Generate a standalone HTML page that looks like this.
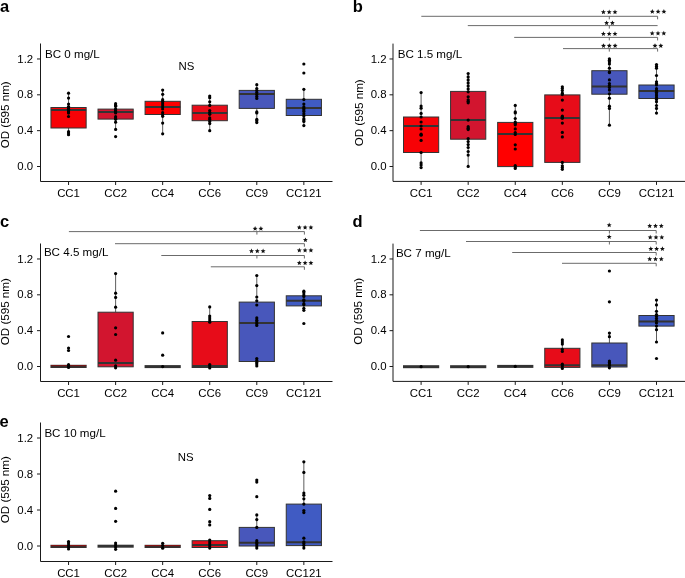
<!DOCTYPE html>
<html><head><meta charset="utf-8"><style>
html,body{margin:0;padding:0;background:#fff;}
svg{display:block;will-change:transform;}
.t{font-family:"Liberation Sans", sans-serif;font-size:11.4px;fill:#000;}
.pl{font-family:"Liberation Sans", sans-serif;font-size:16.5px;font-weight:bold;fill:#000;}
.ax{stroke:#1a1a1a;stroke-width:1;fill:none;}
.wk{stroke:#333;stroke-width:0.8;}
.bx{stroke:#333;stroke-width:1;}
.md{stroke:#333;stroke-width:2;}
.sg{stroke:#5a5a5a;stroke-width:0.9;}
circle{fill:#000;}
polygon{fill:#111;}
</style></head><body>
<svg width="685" height="578" viewBox="0 0 685 578">
<line x1="68.55" y1="93.20" x2="68.55" y2="107.50" class="wk"/>
<line x1="68.55" y1="128.00" x2="68.55" y2="134.70" class="wk"/>
<rect x="50.95" y="107.50" width="35.20" height="20.50" fill="#F70206" class="bx"/>
<line x1="50.95" y1="110.00" x2="86.15" y2="110.00" class="md"/>
<circle cx="68.55" cy="93.20" r="1.6"/>
<circle cx="68.55" cy="98.10" r="1.6"/>
<circle cx="68.55" cy="104.00" r="1.6"/>
<circle cx="68.55" cy="106.50" r="1.6"/>
<circle cx="68.55" cy="107.70" r="1.6"/>
<circle cx="68.55" cy="109.20" r="1.6"/>
<circle cx="68.55" cy="110.90" r="1.6"/>
<circle cx="68.55" cy="112.00" r="1.6"/>
<circle cx="68.55" cy="113.10" r="1.6"/>
<circle cx="68.55" cy="116.50" r="1.6"/>
<circle cx="68.55" cy="131.70" r="1.6"/>
<circle cx="68.55" cy="133.00" r="1.6"/>
<circle cx="68.55" cy="134.70" r="1.6"/>
<line x1="115.61" y1="103.70" x2="115.61" y2="109.10" class="wk"/>
<line x1="115.61" y1="119.10" x2="115.61" y2="129.40" class="wk"/>
<rect x="98.01" y="109.10" width="35.20" height="10.00" fill="#D2152F" class="bx"/>
<line x1="98.01" y1="112.00" x2="133.21" y2="112.00" class="md"/>
<circle cx="115.61" cy="103.70" r="1.6"/>
<circle cx="115.61" cy="105.20" r="1.6"/>
<circle cx="115.61" cy="106.30" r="1.6"/>
<circle cx="115.61" cy="108.90" r="1.6"/>
<circle cx="115.61" cy="110.00" r="1.6"/>
<circle cx="115.61" cy="111.00" r="1.6"/>
<circle cx="115.61" cy="112.00" r="1.6"/>
<circle cx="115.61" cy="113.00" r="1.6"/>
<circle cx="115.61" cy="116.70" r="1.6"/>
<circle cx="115.61" cy="118.00" r="1.6"/>
<circle cx="115.61" cy="119.30" r="1.6"/>
<circle cx="115.61" cy="122.20" r="1.6"/>
<circle cx="115.61" cy="129.40" r="1.6"/>
<circle cx="115.61" cy="136.60" r="1.6"/>
<line x1="162.67" y1="90.10" x2="162.67" y2="101.30" class="wk"/>
<line x1="162.67" y1="114.50" x2="162.67" y2="133.80" class="wk"/>
<rect x="145.07" y="101.30" width="35.20" height="13.20" fill="#FF0000" class="bx"/>
<line x1="145.07" y1="107.00" x2="180.27" y2="107.00" class="md"/>
<circle cx="162.67" cy="90.10" r="1.6"/>
<circle cx="162.67" cy="94.30" r="1.6"/>
<circle cx="162.67" cy="99.70" r="1.6"/>
<circle cx="162.67" cy="101.30" r="1.6"/>
<circle cx="162.67" cy="103.00" r="1.6"/>
<circle cx="162.67" cy="105.00" r="1.6"/>
<circle cx="162.67" cy="107.00" r="1.6"/>
<circle cx="162.67" cy="109.00" r="1.6"/>
<circle cx="162.67" cy="112.70" r="1.6"/>
<circle cx="162.67" cy="114.80" r="1.6"/>
<circle cx="162.67" cy="116.30" r="1.6"/>
<circle cx="162.67" cy="123.10" r="1.6"/>
<circle cx="162.67" cy="133.80" r="1.6"/>
<line x1="209.73" y1="96.10" x2="209.73" y2="105.20" class="wk"/>
<line x1="209.73" y1="120.70" x2="209.73" y2="130.70" class="wk"/>
<rect x="192.13" y="105.20" width="35.20" height="15.50" fill="#E70C19" class="bx"/>
<line x1="192.13" y1="113.00" x2="227.33" y2="113.00" class="md"/>
<circle cx="209.73" cy="96.10" r="1.6"/>
<circle cx="209.73" cy="97.70" r="1.6"/>
<circle cx="209.73" cy="101.80" r="1.6"/>
<circle cx="209.73" cy="105.40" r="1.6"/>
<circle cx="209.73" cy="110.60" r="1.6"/>
<circle cx="209.73" cy="112.50" r="1.6"/>
<circle cx="209.73" cy="114.30" r="1.6"/>
<circle cx="209.73" cy="117.90" r="1.6"/>
<circle cx="209.73" cy="119.50" r="1.6"/>
<circle cx="209.73" cy="121.50" r="1.6"/>
<circle cx="209.73" cy="123.60" r="1.6"/>
<circle cx="209.73" cy="130.70" r="1.6"/>
<line x1="256.79" y1="84.70" x2="256.79" y2="90.40" class="wk"/>
<line x1="256.79" y1="108.40" x2="256.79" y2="122.60" class="wk"/>
<rect x="239.19" y="90.40" width="35.20" height="18.00" fill="#4857BB" class="bx"/>
<line x1="239.19" y1="93.90" x2="274.39" y2="93.90" class="md"/>
<circle cx="256.79" cy="84.70" r="1.6"/>
<circle cx="256.79" cy="88.50" r="1.6"/>
<circle cx="256.79" cy="90.50" r="1.6"/>
<circle cx="256.79" cy="92.50" r="1.6"/>
<circle cx="256.79" cy="94.50" r="1.6"/>
<circle cx="256.79" cy="96.50" r="1.6"/>
<circle cx="256.79" cy="98.40" r="1.6"/>
<circle cx="256.79" cy="111.90" r="1.6"/>
<circle cx="256.79" cy="112.90" r="1.6"/>
<circle cx="256.79" cy="119.40" r="1.6"/>
<circle cx="256.79" cy="120.70" r="1.6"/>
<circle cx="256.79" cy="122.60" r="1.6"/>
<line x1="303.85" y1="89.30" x2="303.85" y2="99.30" class="wk"/>
<line x1="303.85" y1="115.50" x2="303.85" y2="125.60" class="wk"/>
<rect x="286.25" y="99.30" width="35.20" height="16.20" fill="#405BC3" class="bx"/>
<line x1="286.25" y1="107.90" x2="321.45" y2="107.90" class="md"/>
<circle cx="303.85" cy="64.00" r="1.6"/>
<circle cx="303.85" cy="73.00" r="1.6"/>
<circle cx="303.85" cy="89.30" r="1.6"/>
<circle cx="303.85" cy="99.60" r="1.6"/>
<circle cx="303.85" cy="104.10" r="1.6"/>
<circle cx="303.85" cy="106.90" r="1.6"/>
<circle cx="303.85" cy="108.50" r="1.6"/>
<circle cx="303.85" cy="110.00" r="1.6"/>
<circle cx="303.85" cy="111.50" r="1.6"/>
<circle cx="303.85" cy="113.80" r="1.6"/>
<circle cx="303.85" cy="115.90" r="1.6"/>
<circle cx="303.85" cy="118.70" r="1.6"/>
<circle cx="303.85" cy="120.00" r="1.6"/>
<circle cx="303.85" cy="121.40" r="1.6"/>
<circle cx="303.85" cy="125.60" r="1.6"/>
<path d="M40.50 43.50 V181.50 H332.50" class="ax"/>
<line x1="37.00" y1="166.50" x2="40.50" y2="166.50" class="ax"/>
<text x="33.20" y="170.10" text-anchor="end" class="t">0.0</text>
<line x1="37.00" y1="130.66" x2="40.50" y2="130.66" class="ax"/>
<text x="33.20" y="134.26" text-anchor="end" class="t">0.4</text>
<line x1="37.00" y1="94.82" x2="40.50" y2="94.82" class="ax"/>
<text x="33.20" y="98.42" text-anchor="end" class="t">0.8</text>
<line x1="37.00" y1="58.98" x2="40.50" y2="58.98" class="ax"/>
<text x="33.20" y="62.58" text-anchor="end" class="t">1.2</text>
<line x1="68.55" y1="181.50" x2="68.55" y2="185.00" class="ax"/>
<text x="68.55" y="197.40" text-anchor="middle" class="t">CC1</text>
<line x1="115.61" y1="181.50" x2="115.61" y2="185.00" class="ax"/>
<text x="115.61" y="197.40" text-anchor="middle" class="t">CC2</text>
<line x1="162.67" y1="181.50" x2="162.67" y2="185.00" class="ax"/>
<text x="162.67" y="197.40" text-anchor="middle" class="t">CC4</text>
<line x1="209.73" y1="181.50" x2="209.73" y2="185.00" class="ax"/>
<text x="209.73" y="197.40" text-anchor="middle" class="t">CC6</text>
<line x1="256.79" y1="181.50" x2="256.79" y2="185.00" class="ax"/>
<text x="256.79" y="197.40" text-anchor="middle" class="t">CC9</text>
<line x1="303.85" y1="181.50" x2="303.85" y2="185.00" class="ax"/>
<text x="303.85" y="197.40" text-anchor="middle" class="t">CC121</text>
<text transform="translate(9.00 114.80) rotate(-90)" text-anchor="middle" class="t" style="font-size:11.6px">OD (595 nm)</text>
<text x="0.00" y="12.30" class="pl">a</text>
<text x="45.00" y="57.60" class="t" style="font-size:11.6px">BC 0 mg/L</text>
<text x="186.50" y="69.70" text-anchor="middle" class="t">NS</text>
<line x1="421.10" y1="92.60" x2="421.10" y2="117.00" class="wk"/>
<line x1="421.10" y1="152.50" x2="421.10" y2="167.00" class="wk"/>
<rect x="403.50" y="117.00" width="35.20" height="35.50" fill="#F70206" class="bx"/>
<line x1="403.50" y1="126.00" x2="438.70" y2="126.00" class="md"/>
<circle cx="421.10" cy="92.60" r="1.6"/>
<circle cx="421.10" cy="106.10" r="1.6"/>
<circle cx="421.10" cy="108.20" r="1.6"/>
<circle cx="421.10" cy="113.40" r="1.6"/>
<circle cx="421.10" cy="117.00" r="1.6"/>
<circle cx="421.10" cy="122.00" r="1.6"/>
<circle cx="421.10" cy="126.00" r="1.6"/>
<circle cx="421.10" cy="129.00" r="1.6"/>
<circle cx="421.10" cy="134.20" r="1.6"/>
<circle cx="421.10" cy="135.20" r="1.6"/>
<circle cx="421.10" cy="140.40" r="1.6"/>
<circle cx="421.10" cy="152.50" r="1.6"/>
<circle cx="421.10" cy="162.90" r="1.6"/>
<circle cx="421.10" cy="165.00" r="1.6"/>
<circle cx="421.10" cy="167.60" r="1.6"/>
<line x1="468.18" y1="73.50" x2="468.18" y2="91.40" class="wk"/>
<line x1="468.18" y1="139.20" x2="468.18" y2="166.40" class="wk"/>
<rect x="450.58" y="91.40" width="35.20" height="47.80" fill="#D2152F" class="bx"/>
<line x1="450.58" y1="120.10" x2="485.78" y2="120.10" class="md"/>
<circle cx="468.18" cy="73.50" r="1.6"/>
<circle cx="468.18" cy="76.90" r="1.6"/>
<circle cx="468.18" cy="79.90" r="1.6"/>
<circle cx="468.18" cy="82.90" r="1.6"/>
<circle cx="468.18" cy="85.90" r="1.6"/>
<circle cx="468.18" cy="88.90" r="1.6"/>
<circle cx="468.18" cy="91.80" r="1.6"/>
<circle cx="468.18" cy="96.80" r="1.6"/>
<circle cx="468.18" cy="99.80" r="1.6"/>
<circle cx="468.18" cy="101.30" r="1.6"/>
<circle cx="468.18" cy="102.80" r="1.6"/>
<circle cx="468.18" cy="120.10" r="1.6"/>
<circle cx="468.18" cy="126.70" r="1.6"/>
<circle cx="468.18" cy="128.20" r="1.6"/>
<circle cx="468.18" cy="129.60" r="1.6"/>
<circle cx="468.18" cy="138.60" r="1.6"/>
<circle cx="468.18" cy="141.60" r="1.6"/>
<circle cx="468.18" cy="144.60" r="1.6"/>
<circle cx="468.18" cy="147.50" r="1.6"/>
<circle cx="468.18" cy="151.50" r="1.6"/>
<circle cx="468.18" cy="155.10" r="1.6"/>
<circle cx="468.18" cy="166.40" r="1.6"/>
<line x1="515.26" y1="105.40" x2="515.26" y2="122.40" class="wk"/>
<line x1="515.26" y1="166.60" x2="515.26" y2="166.60" class="wk"/>
<rect x="497.66" y="122.40" width="35.20" height="44.20" fill="#FF0000" class="bx"/>
<line x1="497.66" y1="134.00" x2="532.86" y2="134.00" class="md"/>
<circle cx="515.26" cy="105.40" r="1.6"/>
<circle cx="515.26" cy="111.90" r="1.6"/>
<circle cx="515.26" cy="113.00" r="1.6"/>
<circle cx="515.26" cy="118.50" r="1.6"/>
<circle cx="515.26" cy="122.00" r="1.6"/>
<circle cx="515.26" cy="123.40" r="1.6"/>
<circle cx="515.26" cy="124.80" r="1.6"/>
<circle cx="515.26" cy="128.90" r="1.6"/>
<circle cx="515.26" cy="132.60" r="1.6"/>
<circle cx="515.26" cy="134.40" r="1.6"/>
<circle cx="515.26" cy="144.80" r="1.6"/>
<circle cx="515.26" cy="149.00" r="1.6"/>
<circle cx="515.26" cy="165.60" r="1.6"/>
<circle cx="515.26" cy="167.00" r="1.6"/>
<circle cx="515.26" cy="168.40" r="1.6"/>
<line x1="562.34" y1="86.80" x2="562.34" y2="94.90" class="wk"/>
<line x1="562.34" y1="162.40" x2="562.34" y2="169.00" class="wk"/>
<rect x="544.74" y="94.90" width="35.20" height="67.50" fill="#E70C19" class="bx"/>
<line x1="544.74" y1="117.90" x2="579.94" y2="117.90" class="md"/>
<circle cx="562.34" cy="86.80" r="1.6"/>
<circle cx="562.34" cy="88.50" r="1.6"/>
<circle cx="562.34" cy="90.60" r="1.6"/>
<circle cx="562.34" cy="93.20" r="1.6"/>
<circle cx="562.34" cy="94.60" r="1.6"/>
<circle cx="562.34" cy="100.10" r="1.6"/>
<circle cx="562.34" cy="110.10" r="1.6"/>
<circle cx="562.34" cy="116.20" r="1.6"/>
<circle cx="562.34" cy="117.20" r="1.6"/>
<circle cx="562.34" cy="118.30" r="1.6"/>
<circle cx="562.34" cy="123.10" r="1.6"/>
<circle cx="562.34" cy="132.40" r="1.6"/>
<circle cx="562.34" cy="136.90" r="1.6"/>
<circle cx="562.34" cy="162.40" r="1.6"/>
<circle cx="562.34" cy="165.80" r="1.6"/>
<circle cx="562.34" cy="167.50" r="1.6"/>
<circle cx="562.34" cy="169.30" r="1.6"/>
<line x1="609.42" y1="58.80" x2="609.42" y2="70.70" class="wk"/>
<line x1="609.42" y1="94.20" x2="609.42" y2="125.20" class="wk"/>
<rect x="591.82" y="70.70" width="35.20" height="23.50" fill="#4857BB" class="bx"/>
<line x1="591.82" y1="86.50" x2="627.02" y2="86.50" class="md"/>
<circle cx="609.42" cy="58.80" r="1.6"/>
<circle cx="609.42" cy="60.20" r="1.6"/>
<circle cx="609.42" cy="61.70" r="1.6"/>
<circle cx="609.42" cy="63.90" r="1.6"/>
<circle cx="609.42" cy="68.20" r="1.6"/>
<circle cx="609.42" cy="71.90" r="1.6"/>
<circle cx="609.42" cy="72.60" r="1.6"/>
<circle cx="609.42" cy="79.90" r="1.6"/>
<circle cx="609.42" cy="83.60" r="1.6"/>
<circle cx="609.42" cy="85.50" r="1.6"/>
<circle cx="609.42" cy="87.50" r="1.6"/>
<circle cx="609.42" cy="90.10" r="1.6"/>
<circle cx="609.42" cy="93.80" r="1.6"/>
<circle cx="609.42" cy="98.20" r="1.6"/>
<circle cx="609.42" cy="106.20" r="1.6"/>
<circle cx="609.42" cy="108.40" r="1.6"/>
<circle cx="609.42" cy="125.20" r="1.6"/>
<line x1="656.50" y1="64.60" x2="656.50" y2="85.00" class="wk"/>
<line x1="656.50" y1="98.50" x2="656.50" y2="113.10" class="wk"/>
<rect x="638.90" y="85.00" width="35.20" height="13.50" fill="#405BC3" class="bx"/>
<line x1="638.90" y1="90.90" x2="674.10" y2="90.90" class="md"/>
<circle cx="656.50" cy="64.60" r="1.6"/>
<circle cx="656.50" cy="66.40" r="1.6"/>
<circle cx="656.50" cy="68.20" r="1.6"/>
<circle cx="656.50" cy="75.50" r="1.6"/>
<circle cx="656.50" cy="81.80" r="1.6"/>
<circle cx="656.50" cy="83.50" r="1.6"/>
<circle cx="656.50" cy="85.00" r="1.6"/>
<circle cx="656.50" cy="88.70" r="1.6"/>
<circle cx="656.50" cy="90.50" r="1.6"/>
<circle cx="656.50" cy="92.30" r="1.6"/>
<circle cx="656.50" cy="94.00" r="1.6"/>
<circle cx="656.50" cy="95.80" r="1.6"/>
<circle cx="656.50" cy="97.70" r="1.6"/>
<circle cx="656.50" cy="99.60" r="1.6"/>
<circle cx="656.50" cy="101.80" r="1.6"/>
<circle cx="656.50" cy="105.50" r="1.6"/>
<circle cx="656.50" cy="108.40" r="1.6"/>
<circle cx="656.50" cy="113.10" r="1.6"/>
<path d="M393.00 43.60 V181.40 H685.00" class="ax"/>
<line x1="389.50" y1="166.50" x2="393.00" y2="166.50" class="ax"/>
<text x="386.50" y="170.10" text-anchor="end" class="t">0.0</text>
<line x1="389.50" y1="130.66" x2="393.00" y2="130.66" class="ax"/>
<text x="386.50" y="134.26" text-anchor="end" class="t">0.4</text>
<line x1="389.50" y1="94.82" x2="393.00" y2="94.82" class="ax"/>
<text x="386.50" y="98.42" text-anchor="end" class="t">0.8</text>
<line x1="389.50" y1="58.98" x2="393.00" y2="58.98" class="ax"/>
<text x="386.50" y="62.58" text-anchor="end" class="t">1.2</text>
<line x1="421.10" y1="181.40" x2="421.10" y2="184.90" class="ax"/>
<text x="421.10" y="197.30" text-anchor="middle" class="t">CC1</text>
<line x1="468.18" y1="181.40" x2="468.18" y2="184.90" class="ax"/>
<text x="468.18" y="197.30" text-anchor="middle" class="t">CC2</text>
<line x1="515.26" y1="181.40" x2="515.26" y2="184.90" class="ax"/>
<text x="515.26" y="197.30" text-anchor="middle" class="t">CC4</text>
<line x1="562.34" y1="181.40" x2="562.34" y2="184.90" class="ax"/>
<text x="562.34" y="197.30" text-anchor="middle" class="t">CC6</text>
<line x1="609.42" y1="181.40" x2="609.42" y2="184.90" class="ax"/>
<text x="609.42" y="197.30" text-anchor="middle" class="t">CC9</text>
<line x1="656.50" y1="181.40" x2="656.50" y2="184.90" class="ax"/>
<text x="656.50" y="197.30" text-anchor="middle" class="t">CC121</text>
<text transform="translate(363.10 112.80) rotate(-90)" text-anchor="middle" class="t" style="font-size:11.6px">OD (595 nm)</text>
<text x="352.80" y="12.20" class="pl">b</text>
<text x="397.70" y="57.90" class="t" style="font-size:11.6px">BC 1.5 mg/L</text>
<line x1="421.30" y1="16.30" x2="657.60" y2="16.30" class="sg"/>
<line x1="609.30" y1="16.30" x2="609.30" y2="19.30" class="sg"/>
<polygon points="603.40,9.50 604.09,11.15 605.87,11.30 604.51,12.46 604.93,14.20 603.40,13.27 601.87,14.20 602.29,12.46 600.93,11.30 602.71,11.15"/>
<polygon points="609.20,9.50 609.89,11.15 611.67,11.30 610.31,12.46 610.73,14.20 609.20,13.27 607.67,14.20 608.09,12.46 606.73,11.30 608.51,11.15"/>
<polygon points="615.00,9.50 615.69,11.15 617.47,11.30 616.11,12.46 616.53,14.20 615.00,13.27 613.47,14.20 613.89,12.46 612.53,11.30 614.31,11.15"/>
<line x1="657.60" y1="16.30" x2="657.60" y2="19.30" class="sg"/>
<polygon points="652.30,9.10 652.99,10.75 654.77,10.90 653.41,12.06 653.83,13.80 652.30,12.87 650.77,13.80 651.19,12.06 649.83,10.90 651.61,10.75"/>
<polygon points="658.10,9.10 658.79,10.75 660.57,10.90 659.21,12.06 659.63,13.80 658.10,12.87 656.57,13.80 656.99,12.06 655.63,10.90 657.41,10.75"/>
<polygon points="663.90,9.10 664.59,10.75 666.37,10.90 665.01,12.06 665.43,13.80 663.90,12.87 662.37,13.80 662.79,12.06 661.43,10.90 663.21,10.75"/>
<line x1="467.80" y1="25.60" x2="657.60" y2="25.60" class="sg"/>
<line x1="609.30" y1="25.60" x2="609.30" y2="28.60" class="sg"/>
<polygon points="606.60,20.40 607.29,22.05 609.07,22.20 607.71,23.36 608.13,25.10 606.60,24.17 605.07,25.10 605.49,23.36 604.13,22.20 605.91,22.05"/>
<polygon points="612.40,20.40 613.09,22.05 614.87,22.20 613.51,23.36 613.93,25.10 612.40,24.17 610.87,25.10 611.29,23.36 609.93,22.20 611.71,22.05"/>
<line x1="514.20" y1="37.40" x2="657.60" y2="37.40" class="sg"/>
<line x1="609.30" y1="37.40" x2="609.30" y2="40.40" class="sg"/>
<polygon points="603.40,31.30 604.09,32.95 605.87,33.10 604.51,34.26 604.93,36.00 603.40,35.07 601.87,36.00 602.29,34.26 600.93,33.10 602.71,32.95"/>
<polygon points="609.20,31.30 609.89,32.95 611.67,33.10 610.31,34.26 610.73,36.00 609.20,35.07 607.67,36.00 608.09,34.26 606.73,33.10 608.51,32.95"/>
<polygon points="615.00,31.30 615.69,32.95 617.47,33.10 616.11,34.26 616.53,36.00 615.00,35.07 613.47,36.00 613.89,34.26 612.53,33.10 614.31,32.95"/>
<line x1="657.60" y1="37.40" x2="657.60" y2="40.40" class="sg"/>
<polygon points="652.20,30.80 652.89,32.45 654.67,32.60 653.31,33.76 653.73,35.50 652.20,34.57 650.67,35.50 651.09,33.76 649.73,32.60 651.51,32.45"/>
<polygon points="658.00,30.80 658.69,32.45 660.47,32.60 659.11,33.76 659.53,35.50 658.00,34.57 656.47,35.50 656.89,33.76 655.53,32.60 657.31,32.45"/>
<polygon points="663.80,30.80 664.49,32.45 666.27,32.60 664.91,33.76 665.33,35.50 663.80,34.57 662.27,35.50 662.69,33.76 661.33,32.60 663.11,32.45"/>
<line x1="563.00" y1="48.60" x2="657.60" y2="48.60" class="sg"/>
<line x1="609.30" y1="48.60" x2="609.30" y2="51.60" class="sg"/>
<polygon points="603.50,43.20 604.19,44.85 605.97,45.00 604.61,46.16 605.03,47.90 603.50,46.97 601.97,47.90 602.39,46.16 601.03,45.00 602.81,44.85"/>
<polygon points="609.30,43.20 609.99,44.85 611.77,45.00 610.41,46.16 610.83,47.90 609.30,46.97 607.77,47.90 608.19,46.16 606.83,45.00 608.61,44.85"/>
<polygon points="615.10,43.20 615.79,44.85 617.57,45.00 616.21,46.16 616.63,47.90 615.10,46.97 613.57,47.90 613.99,46.16 612.63,45.00 614.41,44.85"/>
<line x1="657.60" y1="48.60" x2="657.60" y2="51.60" class="sg"/>
<polygon points="655.00,43.20 655.69,44.85 657.47,45.00 656.11,46.16 656.53,47.90 655.00,46.97 653.47,47.90 653.89,46.16 652.53,45.00 654.31,44.85"/>
<polygon points="660.80,43.20 661.49,44.85 663.27,45.00 661.91,46.16 662.33,47.90 660.80,46.97 659.27,47.90 659.69,46.16 658.33,45.00 660.11,44.85"/>
<rect x="50.45" y="364.80" width="36.20" height="3.2" fill="#363030"/>
<rect x="50.95" y="365.10" width="35.20" height="1" fill="#7a1616"/>
<circle cx="68.55" cy="336.50" r="1.6"/>
<circle cx="68.55" cy="348.00" r="1.6"/>
<circle cx="68.55" cy="350.50" r="1.6"/>
<circle cx="68.55" cy="364.70" r="1.6"/>
<circle cx="68.55" cy="366.00" r="1.6"/>
<circle cx="68.55" cy="367.40" r="1.6"/>
<line x1="115.61" y1="273.60" x2="115.61" y2="312.20" class="wk"/>
<line x1="115.61" y1="366.80" x2="115.61" y2="366.80" class="wk"/>
<rect x="98.01" y="312.20" width="35.20" height="54.60" fill="#D2152F" class="bx"/>
<line x1="98.01" y1="363.00" x2="133.21" y2="363.00" class="md"/>
<circle cx="115.61" cy="273.60" r="1.6"/>
<circle cx="115.61" cy="293.20" r="1.6"/>
<circle cx="115.61" cy="297.40" r="1.6"/>
<circle cx="115.61" cy="307.20" r="1.6"/>
<circle cx="115.61" cy="327.80" r="1.6"/>
<circle cx="115.61" cy="334.50" r="1.6"/>
<circle cx="115.61" cy="360.20" r="1.6"/>
<circle cx="115.61" cy="365.90" r="1.6"/>
<circle cx="115.61" cy="367.80" r="1.6"/>
<rect x="144.57" y="365.10" width="36.20" height="3" fill="#333333"/>
<circle cx="162.67" cy="332.90" r="1.6"/>
<circle cx="162.67" cy="355.20" r="1.6"/>
<circle cx="162.67" cy="366.60" r="1.6"/>
<line x1="209.73" y1="306.90" x2="209.73" y2="321.50" class="wk"/>
<line x1="209.73" y1="367.50" x2="209.73" y2="367.50" class="wk"/>
<rect x="192.13" y="321.50" width="35.20" height="46.00" fill="#E70C19" class="bx"/>
<line x1="192.13" y1="365.90" x2="227.33" y2="365.90" class="md"/>
<circle cx="209.73" cy="306.90" r="1.6"/>
<circle cx="209.73" cy="316.00" r="1.6"/>
<circle cx="209.73" cy="318.00" r="1.6"/>
<circle cx="209.73" cy="320.00" r="1.6"/>
<circle cx="209.73" cy="322.20" r="1.6"/>
<circle cx="209.73" cy="364.50" r="1.6"/>
<circle cx="209.73" cy="366.00" r="1.6"/>
<circle cx="209.73" cy="368.00" r="1.6"/>
<line x1="256.79" y1="275.50" x2="256.79" y2="302.10" class="wk"/>
<line x1="256.79" y1="361.50" x2="256.79" y2="365.90" class="wk"/>
<rect x="239.19" y="302.10" width="35.20" height="59.40" fill="#4857BB" class="bx"/>
<line x1="239.19" y1="323.00" x2="274.39" y2="323.00" class="md"/>
<circle cx="256.79" cy="275.50" r="1.6"/>
<circle cx="256.79" cy="285.60" r="1.6"/>
<circle cx="256.79" cy="297.00" r="1.6"/>
<circle cx="256.79" cy="300.80" r="1.6"/>
<circle cx="256.79" cy="305.00" r="1.6"/>
<circle cx="256.79" cy="317.90" r="1.6"/>
<circle cx="256.79" cy="320.20" r="1.6"/>
<circle cx="256.79" cy="322.00" r="1.6"/>
<circle cx="256.79" cy="323.80" r="1.6"/>
<circle cx="256.79" cy="325.50" r="1.6"/>
<circle cx="256.79" cy="358.60" r="1.6"/>
<circle cx="256.79" cy="360.50" r="1.6"/>
<circle cx="256.79" cy="362.50" r="1.6"/>
<circle cx="256.79" cy="364.00" r="1.6"/>
<circle cx="256.79" cy="365.90" r="1.6"/>
<line x1="303.85" y1="291.60" x2="303.85" y2="295.80" class="wk"/>
<line x1="303.85" y1="305.90" x2="303.85" y2="310.70" class="wk"/>
<rect x="286.25" y="295.80" width="35.20" height="10.10" fill="#405BC3" class="bx"/>
<line x1="286.25" y1="300.80" x2="321.45" y2="300.80" class="md"/>
<circle cx="303.85" cy="291.20" r="1.6"/>
<circle cx="303.85" cy="292.80" r="1.6"/>
<circle cx="303.85" cy="295.10" r="1.6"/>
<circle cx="303.85" cy="296.50" r="1.6"/>
<circle cx="303.85" cy="299.80" r="1.6"/>
<circle cx="303.85" cy="300.80" r="1.6"/>
<circle cx="303.85" cy="303.70" r="1.6"/>
<circle cx="303.85" cy="304.80" r="1.6"/>
<circle cx="303.85" cy="308.30" r="1.6"/>
<circle cx="303.85" cy="310.30" r="1.6"/>
<circle cx="303.85" cy="323.50" r="1.6"/>
<path d="M40.50 243.50 V381.50 H332.50" class="ax"/>
<line x1="37.00" y1="366.50" x2="40.50" y2="366.50" class="ax"/>
<text x="33.20" y="370.10" text-anchor="end" class="t">0.0</text>
<line x1="37.00" y1="330.66" x2="40.50" y2="330.66" class="ax"/>
<text x="33.20" y="334.26" text-anchor="end" class="t">0.4</text>
<line x1="37.00" y1="294.82" x2="40.50" y2="294.82" class="ax"/>
<text x="33.20" y="298.42" text-anchor="end" class="t">0.8</text>
<line x1="37.00" y1="258.98" x2="40.50" y2="258.98" class="ax"/>
<text x="33.20" y="262.58" text-anchor="end" class="t">1.2</text>
<line x1="68.55" y1="381.50" x2="68.55" y2="385.00" class="ax"/>
<text x="68.55" y="397.40" text-anchor="middle" class="t">CC1</text>
<line x1="115.61" y1="381.50" x2="115.61" y2="385.00" class="ax"/>
<text x="115.61" y="397.40" text-anchor="middle" class="t">CC2</text>
<line x1="162.67" y1="381.50" x2="162.67" y2="385.00" class="ax"/>
<text x="162.67" y="397.40" text-anchor="middle" class="t">CC4</text>
<line x1="209.73" y1="381.50" x2="209.73" y2="385.00" class="ax"/>
<text x="209.73" y="397.40" text-anchor="middle" class="t">CC6</text>
<line x1="256.79" y1="381.50" x2="256.79" y2="385.00" class="ax"/>
<text x="256.79" y="397.40" text-anchor="middle" class="t">CC9</text>
<line x1="303.85" y1="381.50" x2="303.85" y2="385.00" class="ax"/>
<text x="303.85" y="397.40" text-anchor="middle" class="t">CC121</text>
<text transform="translate(9.00 311.70) rotate(-90)" text-anchor="middle" class="t" style="font-size:11.6px">OD (595 nm)</text>
<text x="0.00" y="227.20" class="pl">c</text>
<text x="43.90" y="256.00" class="t" style="font-size:11.6px">BC 4.5 mg/L</text>
<line x1="68.90" y1="231.60" x2="304.40" y2="231.60" class="sg"/>
<line x1="256.90" y1="231.60" x2="256.90" y2="234.60" class="sg"/>
<polygon points="255.10,226.10 255.79,227.75 257.57,227.90 256.21,229.06 256.63,230.80 255.10,229.87 253.57,230.80 253.99,229.06 252.63,227.90 254.41,227.75"/>
<polygon points="260.90,226.10 261.59,227.75 263.37,227.90 262.01,229.06 262.43,230.80 260.90,229.87 259.37,230.80 259.79,229.06 258.43,227.90 260.21,227.75"/>
<line x1="304.40" y1="231.60" x2="304.40" y2="234.60" class="sg"/>
<polygon points="299.30,224.90 299.99,226.55 301.77,226.70 300.41,227.86 300.83,229.60 299.30,228.67 297.77,229.60 298.19,227.86 296.83,226.70 298.61,226.55"/>
<polygon points="305.10,224.90 305.79,226.55 307.57,226.70 306.21,227.86 306.63,229.60 305.10,228.67 303.57,229.60 303.99,227.86 302.63,226.70 304.41,226.55"/>
<polygon points="310.90,224.90 311.59,226.55 313.37,226.70 312.01,227.86 312.43,229.60 310.90,228.67 309.37,229.60 309.79,227.86 308.43,226.70 310.21,226.55"/>
<line x1="115.00" y1="243.70" x2="304.40" y2="243.70" class="sg"/>
<line x1="304.40" y1="243.70" x2="304.40" y2="246.70" class="sg"/>
<polygon points="305.40,237.40 306.09,239.05 307.87,239.20 306.51,240.36 306.93,242.10 305.40,241.17 303.87,242.10 304.29,240.36 302.93,239.20 304.71,239.05"/>
<line x1="161.30" y1="255.50" x2="304.40" y2="255.50" class="sg"/>
<line x1="256.90" y1="255.50" x2="256.90" y2="258.50" class="sg"/>
<polygon points="251.50,248.50 252.19,250.15 253.97,250.30 252.61,251.46 253.03,253.20 251.50,252.27 249.97,253.20 250.39,251.46 249.03,250.30 250.81,250.15"/>
<polygon points="257.30,248.50 257.99,250.15 259.77,250.30 258.41,251.46 258.83,253.20 257.30,252.27 255.77,253.20 256.19,251.46 254.83,250.30 256.61,250.15"/>
<polygon points="263.10,248.50 263.79,250.15 265.57,250.30 264.21,251.46 264.63,253.20 263.10,252.27 261.57,253.20 261.99,251.46 260.63,250.30 262.41,250.15"/>
<line x1="304.40" y1="255.50" x2="304.40" y2="258.50" class="sg"/>
<polygon points="299.30,247.80 299.99,249.45 301.77,249.60 300.41,250.76 300.83,252.50 299.30,251.57 297.77,252.50 298.19,250.76 296.83,249.60 298.61,249.45"/>
<polygon points="305.10,247.80 305.79,249.45 307.57,249.60 306.21,250.76 306.63,252.50 305.10,251.57 303.57,252.50 303.99,250.76 302.63,249.60 304.41,249.45"/>
<polygon points="310.90,247.80 311.59,249.45 313.37,249.60 312.01,250.76 312.43,252.50 310.90,251.57 309.37,252.50 309.79,250.76 308.43,249.60 310.21,249.45"/>
<line x1="210.80" y1="266.80" x2="304.40" y2="266.80" class="sg"/>
<line x1="304.40" y1="266.80" x2="304.40" y2="269.80" class="sg"/>
<polygon points="299.30,260.40 299.99,262.05 301.77,262.20 300.41,263.36 300.83,265.10 299.30,264.17 297.77,265.10 298.19,263.36 296.83,262.20 298.61,262.05"/>
<polygon points="305.10,260.40 305.79,262.05 307.57,262.20 306.21,263.36 306.63,265.10 305.10,264.17 303.57,265.10 303.99,263.36 302.63,262.20 304.41,262.05"/>
<polygon points="310.90,260.40 311.59,262.05 313.37,262.20 312.01,263.36 312.43,265.10 310.90,264.17 309.37,265.10 309.79,263.36 308.43,262.20 310.21,262.05"/>
<rect x="403.00" y="365.20" width="36.20" height="3" fill="#333333"/>
<circle cx="421.10" cy="366.70" r="1.6"/>
<rect x="450.08" y="365.20" width="36.20" height="3" fill="#333333"/>
<circle cx="468.18" cy="366.70" r="1.6"/>
<rect x="497.16" y="364.90" width="36.20" height="3" fill="#333333"/>
<circle cx="515.26" cy="366.40" r="1.6"/>
<line x1="562.34" y1="339.90" x2="562.34" y2="348.30" class="wk"/>
<line x1="562.34" y1="367.40" x2="562.34" y2="367.40" class="wk"/>
<rect x="544.74" y="348.30" width="35.20" height="19.10" fill="#E70C19" class="bx"/>
<line x1="544.74" y1="365.30" x2="579.94" y2="365.30" class="md"/>
<circle cx="562.34" cy="339.90" r="1.6"/>
<circle cx="562.34" cy="342.00" r="1.6"/>
<circle cx="562.34" cy="344.10" r="1.6"/>
<circle cx="562.34" cy="349.40" r="1.6"/>
<circle cx="562.34" cy="351.50" r="1.6"/>
<circle cx="562.34" cy="364.20" r="1.6"/>
<circle cx="562.34" cy="366.00" r="1.6"/>
<circle cx="562.34" cy="368.40" r="1.6"/>
<line x1="609.42" y1="333.10" x2="609.42" y2="343.00" class="wk"/>
<line x1="609.42" y1="367.00" x2="609.42" y2="367.00" class="wk"/>
<rect x="591.82" y="343.00" width="35.20" height="24.00" fill="#4857BB" class="bx"/>
<line x1="591.82" y1="365.30" x2="627.02" y2="365.30" class="md"/>
<circle cx="609.42" cy="271.00" r="1.6"/>
<circle cx="609.42" cy="301.80" r="1.6"/>
<circle cx="609.42" cy="333.10" r="1.6"/>
<circle cx="609.42" cy="336.70" r="1.6"/>
<circle cx="609.42" cy="361.00" r="1.6"/>
<circle cx="609.42" cy="362.50" r="1.6"/>
<circle cx="609.42" cy="364.00" r="1.6"/>
<circle cx="609.42" cy="365.50" r="1.6"/>
<circle cx="609.42" cy="367.80" r="1.6"/>
<line x1="656.50" y1="300.10" x2="656.50" y2="315.50" class="wk"/>
<line x1="656.50" y1="326.10" x2="656.50" y2="342.00" class="wk"/>
<rect x="638.90" y="315.50" width="35.20" height="10.60" fill="#405BC3" class="bx"/>
<line x1="638.90" y1="321.40" x2="674.10" y2="321.40" class="md"/>
<circle cx="656.50" cy="300.10" r="1.6"/>
<circle cx="656.50" cy="304.90" r="1.6"/>
<circle cx="656.50" cy="311.30" r="1.6"/>
<circle cx="656.50" cy="314.50" r="1.6"/>
<circle cx="656.50" cy="316.50" r="1.6"/>
<circle cx="656.50" cy="318.50" r="1.6"/>
<circle cx="656.50" cy="320.50" r="1.6"/>
<circle cx="656.50" cy="322.90" r="1.6"/>
<circle cx="656.50" cy="326.10" r="1.6"/>
<circle cx="656.50" cy="329.70" r="1.6"/>
<circle cx="656.50" cy="342.00" r="1.6"/>
<circle cx="656.50" cy="358.50" r="1.6"/>
<path d="M393.00 243.60 V381.40 H685.00" class="ax"/>
<line x1="389.50" y1="366.50" x2="393.00" y2="366.50" class="ax"/>
<text x="386.50" y="370.10" text-anchor="end" class="t">0.0</text>
<line x1="389.50" y1="330.66" x2="393.00" y2="330.66" class="ax"/>
<text x="386.50" y="334.26" text-anchor="end" class="t">0.4</text>
<line x1="389.50" y1="294.82" x2="393.00" y2="294.82" class="ax"/>
<text x="386.50" y="298.42" text-anchor="end" class="t">0.8</text>
<line x1="389.50" y1="258.98" x2="393.00" y2="258.98" class="ax"/>
<text x="386.50" y="262.58" text-anchor="end" class="t">1.2</text>
<line x1="421.10" y1="381.40" x2="421.10" y2="384.90" class="ax"/>
<text x="421.10" y="397.30" text-anchor="middle" class="t">CC1</text>
<line x1="468.18" y1="381.40" x2="468.18" y2="384.90" class="ax"/>
<text x="468.18" y="397.30" text-anchor="middle" class="t">CC2</text>
<line x1="515.26" y1="381.40" x2="515.26" y2="384.90" class="ax"/>
<text x="515.26" y="397.30" text-anchor="middle" class="t">CC4</text>
<line x1="562.34" y1="381.40" x2="562.34" y2="384.90" class="ax"/>
<text x="562.34" y="397.30" text-anchor="middle" class="t">CC6</text>
<line x1="609.42" y1="381.40" x2="609.42" y2="384.90" class="ax"/>
<text x="609.42" y="397.30" text-anchor="middle" class="t">CC9</text>
<line x1="656.50" y1="381.40" x2="656.50" y2="384.90" class="ax"/>
<text x="656.50" y="397.30" text-anchor="middle" class="t">CC121</text>
<text transform="translate(361.60 311.30) rotate(-90)" text-anchor="middle" class="t" style="font-size:11.6px">OD (595 nm)</text>
<text x="352.40" y="227.00" class="pl">d</text>
<text x="395.90" y="256.70" class="t" style="font-size:11.6px">BC 7 mg/L</text>
<line x1="419.90" y1="230.50" x2="656.20" y2="230.50" class="sg"/>
<line x1="609.40" y1="230.50" x2="609.40" y2="233.50" class="sg"/>
<polygon points="609.20,222.60 609.89,224.25 611.67,224.40 610.31,225.56 610.73,227.30 609.20,226.37 607.67,227.30 608.09,225.56 606.73,224.40 608.51,224.25"/>
<line x1="656.20" y1="230.50" x2="656.20" y2="233.50" class="sg"/>
<polygon points="649.70,223.40 650.39,225.05 652.17,225.20 650.81,226.36 651.23,228.10 649.70,227.17 648.17,228.10 648.59,226.36 647.23,225.20 649.01,225.05"/>
<polygon points="655.50,223.40 656.19,225.05 657.97,225.20 656.61,226.36 657.03,228.10 655.50,227.17 653.97,228.10 654.39,226.36 653.03,225.20 654.81,225.05"/>
<polygon points="661.30,223.40 661.99,225.05 663.77,225.20 662.41,226.36 662.83,228.10 661.30,227.17 659.77,228.10 660.19,226.36 658.83,225.20 660.61,225.05"/>
<line x1="466.00" y1="241.50" x2="656.20" y2="241.50" class="sg"/>
<line x1="609.40" y1="241.50" x2="609.40" y2="244.50" class="sg"/>
<polygon points="609.20,234.30 609.89,235.95 611.67,236.10 610.31,237.26 610.73,239.00 609.20,238.07 607.67,239.00 608.09,237.26 606.73,236.10 608.51,235.95"/>
<line x1="656.20" y1="241.50" x2="656.20" y2="244.50" class="sg"/>
<polygon points="650.20,234.80 650.89,236.45 652.67,236.60 651.31,237.76 651.73,239.50 650.20,238.57 648.67,239.50 649.09,237.76 647.73,236.60 649.51,236.45"/>
<polygon points="656.00,234.80 656.69,236.45 658.47,236.60 657.11,237.76 657.53,239.50 656.00,238.57 654.47,239.50 654.89,237.76 653.53,236.60 655.31,236.45"/>
<polygon points="661.80,234.80 662.49,236.45 664.27,236.60 662.91,237.76 663.33,239.50 661.80,238.57 660.27,239.50 660.69,237.76 659.33,236.60 661.11,236.45"/>
<line x1="512.20" y1="252.50" x2="656.20" y2="252.50" class="sg"/>
<line x1="656.20" y1="252.50" x2="656.20" y2="255.50" class="sg"/>
<polygon points="650.80,246.30 651.49,247.95 653.27,248.10 651.91,249.26 652.33,251.00 650.80,250.07 649.27,251.00 649.69,249.26 648.33,248.10 650.11,247.95"/>
<polygon points="656.60,246.30 657.29,247.95 659.07,248.10 657.71,249.26 658.13,251.00 656.60,250.07 655.07,251.00 655.49,249.26 654.13,248.10 655.91,247.95"/>
<polygon points="662.40,246.30 663.09,247.95 664.87,248.10 663.51,249.26 663.93,251.00 662.40,250.07 660.87,251.00 661.29,249.26 659.93,248.10 661.71,247.95"/>
<line x1="562.00" y1="263.30" x2="656.20" y2="263.30" class="sg"/>
<line x1="656.20" y1="263.30" x2="656.20" y2="266.30" class="sg"/>
<polygon points="649.70,256.50 650.39,258.15 652.17,258.30 650.81,259.46 651.23,261.20 649.70,260.27 648.17,261.20 648.59,259.46 647.23,258.30 649.01,258.15"/>
<polygon points="655.50,256.50 656.19,258.15 657.97,258.30 656.61,259.46 657.03,261.20 655.50,260.27 653.97,261.20 654.39,259.46 653.03,258.30 654.81,258.15"/>
<polygon points="661.30,256.50 661.99,258.15 663.77,258.30 662.41,259.46 662.83,261.20 661.30,260.27 659.77,261.20 660.19,259.46 658.83,258.30 660.61,258.15"/>
<rect x="50.45" y="544.80" width="36.20" height="3.2" fill="#363030"/>
<rect x="50.95" y="545.10" width="35.20" height="1" fill="#8c1212"/>
<circle cx="68.55" cy="541.50" r="1.6"/>
<circle cx="68.55" cy="543.00" r="1.6"/>
<circle cx="68.55" cy="545.00" r="1.6"/>
<circle cx="68.55" cy="547.00" r="1.6"/>
<circle cx="68.55" cy="549.00" r="1.6"/>
<rect x="97.51" y="544.70" width="36.20" height="3" fill="#333333"/>
<circle cx="115.61" cy="491.20" r="1.6"/>
<circle cx="115.61" cy="508.40" r="1.6"/>
<circle cx="115.61" cy="521.30" r="1.6"/>
<circle cx="115.61" cy="543.00" r="1.6"/>
<circle cx="115.61" cy="545.00" r="1.6"/>
<circle cx="115.61" cy="547.00" r="1.6"/>
<circle cx="115.61" cy="549.30" r="1.6"/>
<rect x="144.57" y="544.80" width="36.20" height="3.2" fill="#363030"/>
<rect x="145.07" y="545.10" width="35.20" height="1" fill="#8c1212"/>
<circle cx="162.67" cy="543.30" r="1.6"/>
<circle cx="162.67" cy="545.50" r="1.6"/>
<circle cx="162.67" cy="548.20" r="1.6"/>
<line x1="209.73" y1="540.70" x2="209.73" y2="540.70" class="wk"/>
<line x1="209.73" y1="547.50" x2="209.73" y2="548.10" class="wk"/>
<rect x="192.13" y="540.70" width="35.20" height="6.80" fill="#E70C19" class="bx"/>
<line x1="192.13" y1="545.00" x2="227.33" y2="545.00" class="md"/>
<circle cx="209.73" cy="495.60" r="1.6"/>
<circle cx="209.73" cy="498.40" r="1.6"/>
<circle cx="209.73" cy="509.40" r="1.6"/>
<circle cx="209.73" cy="521.70" r="1.6"/>
<circle cx="209.73" cy="524.90" r="1.6"/>
<circle cx="209.73" cy="540.00" r="1.6"/>
<circle cx="209.73" cy="542.00" r="1.6"/>
<circle cx="209.73" cy="544.00" r="1.6"/>
<circle cx="209.73" cy="546.00" r="1.6"/>
<circle cx="209.73" cy="548.10" r="1.6"/>
<line x1="256.79" y1="514.90" x2="256.79" y2="527.40" class="wk"/>
<line x1="256.79" y1="546.00" x2="256.79" y2="548.10" class="wk"/>
<rect x="239.19" y="527.40" width="35.20" height="18.60" fill="#4857BB" class="bx"/>
<line x1="239.19" y1="542.80" x2="274.39" y2="542.80" class="md"/>
<circle cx="256.79" cy="480.00" r="1.6"/>
<circle cx="256.79" cy="482.10" r="1.6"/>
<circle cx="256.79" cy="496.70" r="1.6"/>
<circle cx="256.79" cy="514.90" r="1.6"/>
<circle cx="256.79" cy="519.60" r="1.6"/>
<circle cx="256.79" cy="527.40" r="1.6"/>
<circle cx="256.79" cy="540.70" r="1.6"/>
<circle cx="256.79" cy="542.50" r="1.6"/>
<circle cx="256.79" cy="544.00" r="1.6"/>
<circle cx="256.79" cy="546.00" r="1.6"/>
<circle cx="256.79" cy="548.10" r="1.6"/>
<line x1="303.85" y1="461.80" x2="303.85" y2="504.10" class="wk"/>
<line x1="303.85" y1="545.60" x2="303.85" y2="548.10" class="wk"/>
<rect x="286.25" y="504.10" width="35.20" height="41.50" fill="#405BC3" class="bx"/>
<line x1="286.25" y1="542.20" x2="321.45" y2="542.20" class="md"/>
<circle cx="303.85" cy="461.80" r="1.6"/>
<circle cx="303.85" cy="472.40" r="1.6"/>
<circle cx="303.85" cy="493.10" r="1.6"/>
<circle cx="303.85" cy="495.20" r="1.6"/>
<circle cx="303.85" cy="498.80" r="1.6"/>
<circle cx="303.85" cy="504.10" r="1.6"/>
<circle cx="303.85" cy="510.50" r="1.6"/>
<circle cx="303.85" cy="512.60" r="1.6"/>
<circle cx="303.85" cy="538.20" r="1.6"/>
<circle cx="303.85" cy="541.80" r="1.6"/>
<circle cx="303.85" cy="543.50" r="1.6"/>
<circle cx="303.85" cy="545.50" r="1.6"/>
<circle cx="303.85" cy="548.10" r="1.6"/>
<path d="M40.50 422.50 V561.50 H332.50" class="ax"/>
<line x1="37.00" y1="546.00" x2="40.50" y2="546.00" class="ax"/>
<text x="33.20" y="549.60" text-anchor="end" class="t">0.0</text>
<line x1="37.00" y1="510.00" x2="40.50" y2="510.00" class="ax"/>
<text x="33.20" y="513.60" text-anchor="end" class="t">0.4</text>
<line x1="37.00" y1="474.00" x2="40.50" y2="474.00" class="ax"/>
<text x="33.20" y="477.60" text-anchor="end" class="t">0.8</text>
<line x1="37.00" y1="438.00" x2="40.50" y2="438.00" class="ax"/>
<text x="33.20" y="441.60" text-anchor="end" class="t">1.2</text>
<line x1="68.55" y1="561.50" x2="68.55" y2="565.00" class="ax"/>
<text x="68.55" y="577.40" text-anchor="middle" class="t">CC1</text>
<line x1="115.61" y1="561.50" x2="115.61" y2="565.00" class="ax"/>
<text x="115.61" y="577.40" text-anchor="middle" class="t">CC2</text>
<line x1="162.67" y1="561.50" x2="162.67" y2="565.00" class="ax"/>
<text x="162.67" y="577.40" text-anchor="middle" class="t">CC4</text>
<line x1="209.73" y1="561.50" x2="209.73" y2="565.00" class="ax"/>
<text x="209.73" y="577.40" text-anchor="middle" class="t">CC6</text>
<line x1="256.79" y1="561.50" x2="256.79" y2="565.00" class="ax"/>
<text x="256.79" y="577.40" text-anchor="middle" class="t">CC9</text>
<line x1="303.85" y1="561.50" x2="303.85" y2="565.00" class="ax"/>
<text x="303.85" y="577.40" text-anchor="middle" class="t">CC121</text>
<text transform="translate(9.00 489.70) rotate(-90)" text-anchor="middle" class="t" style="font-size:11.6px">OD (595 nm)</text>
<text x="-0.50" y="426.50" class="pl">e</text>
<text x="44.40" y="437.20" class="t" style="font-size:11.6px">BC 10 mg/L</text>
<text x="185.70" y="460.60" text-anchor="middle" class="t">NS</text>
</svg>
</body></html>
